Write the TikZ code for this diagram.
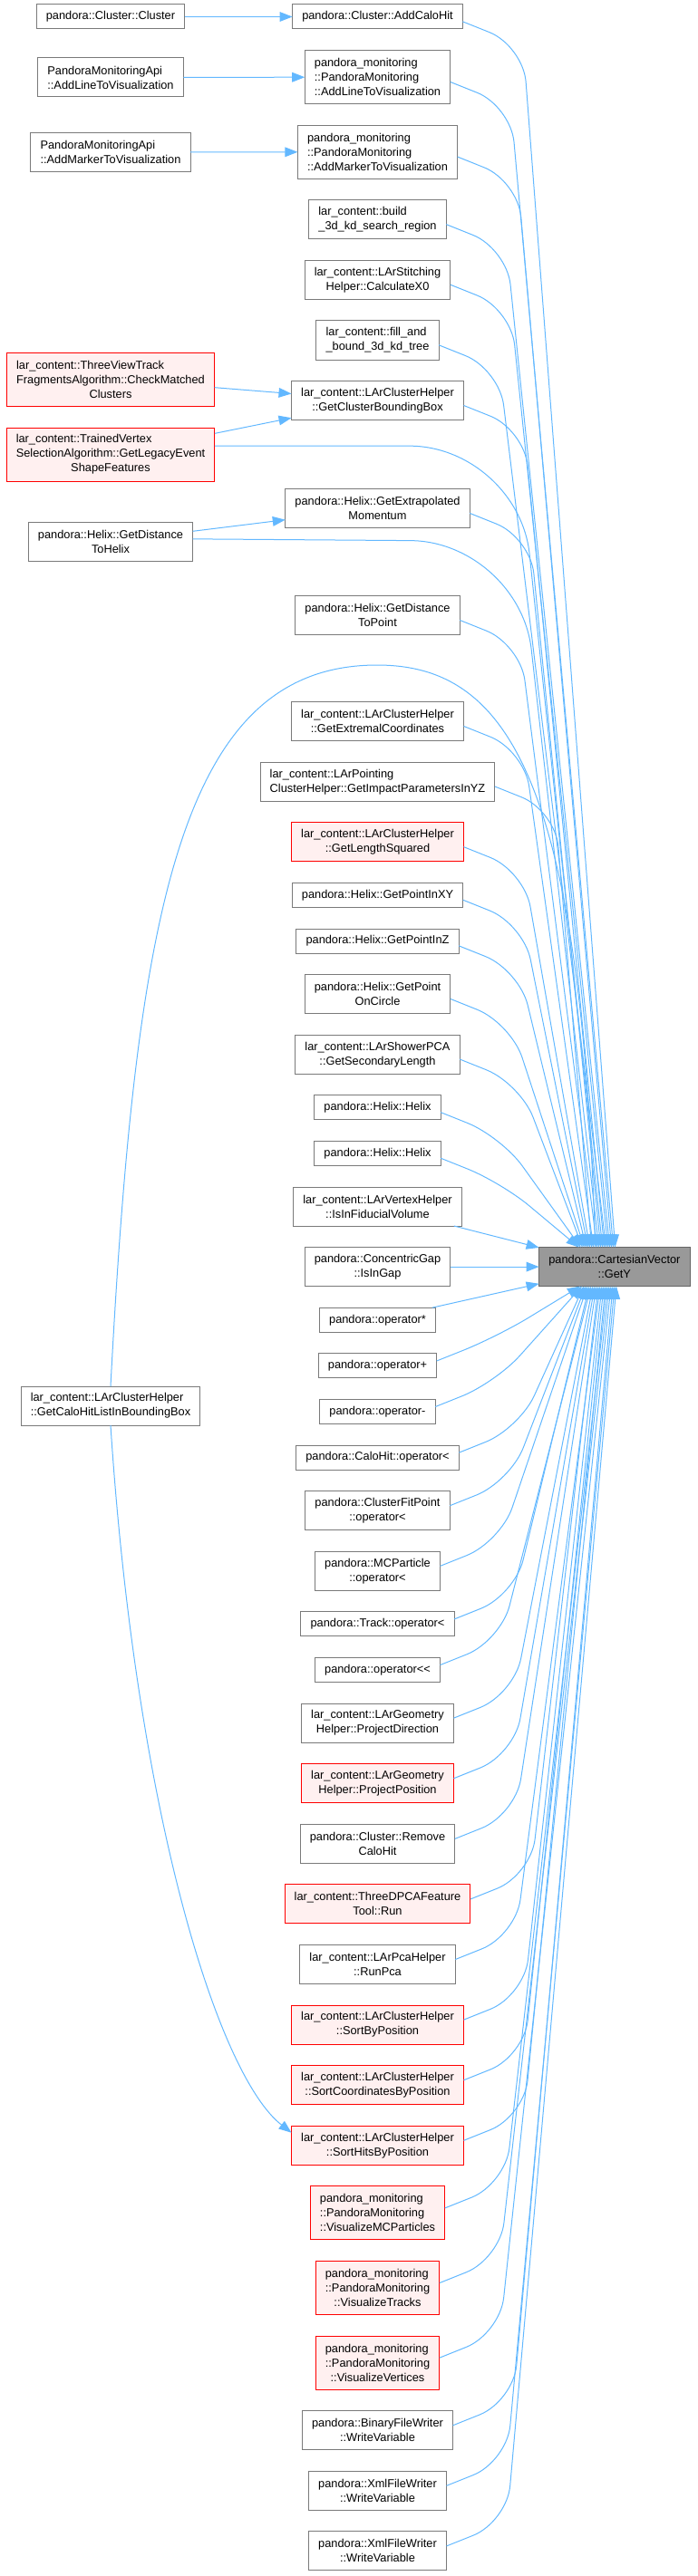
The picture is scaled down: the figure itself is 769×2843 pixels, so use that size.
\documentclass[tikz,border=0pt]{standalone}
\usepackage{fontspec}
\setmainfont{Liberation Sans}[Ligatures=TeXOff]
\usetikzlibrary{positioning, arrows.meta}

\definecolor{callblue}{HTML}{63B8FF}
\definecolor{boxline}{HTML}{7A7A7A}
\definecolor{hotfill}{HTML}{FFF0F0}
\definecolor{focusfill}{HTML}{999999}
\definecolor{focusline}{HTML}{666666}

\begin{document}
\begin{tikzpicture}[
    x=0.75pt, y=-0.75pt,
    node distance=17.7pt,
    fn/.style={draw=boxline, fill=white, line width=0.75pt, outer sep=0pt, inner xsep=8pt, inner ysep=2pt, font=\fontsize{9.6}{12}\selectfont, align=center},
    hot/.style={fn, draw=red, fill=hotfill},
    focus/.style={fn, draw=focusline, fill=focusfill},
    l1/.style={minimum height=20.25pt},
    l2/.style={minimum height=32.25pt},
    l3/.style={minimum height=44.25pt},
    call/.style={draw=callblue, line width=0.75pt, -{Triangle[length=10.5pt, width=8pt]}},
]
\useasboundingbox (0,0) rectangle (769,2843);

% middle column, top to bottom
\node[fn, l1] (addcalohit) at (416.5,18.5) {pandora::Cluster::AddCaloHit};
\node[fn, l3, align=left, below=of addcalohit] (pmaddline) {pandora\_monitoring\\::PandoraMonitoring\\::AddLineToVisualization};
\node[fn, l3, align=left, below=of pmaddline] (pmaddmarker) {pandora\_monitoring\\::PandoraMonitoring\\::AddMarkerToVisualization};
\node[fn, l2, align=left, below=of pmaddmarker] (buildregion) {lar\_content::build\\\_3d\_kd\_search\_region};
\node[fn, l2, below=of buildregion] (calcx0) {lar\_content::LArStitching\\Helper::CalculateX0};
\node[fn, l2, align=left, below=of calcx0] (filltree) {lar\_content::fill\_and\\\_bound\_3d\_kd\_tree};
\node[fn, l2, below=of filltree] (boundingbox) {lar\_content::LArClusterHelper\\::GetClusterBoundingBox};
\node[fn, l2, below=57pt of boundingbox] (extrapmom) {pandora::Helix::GetExtrapolated\\Momentum};
\node[fn, l2, below=56.25pt of extrapmom] (distpoint) {pandora::Helix::GetDistance\\ToPoint};
\node[fn, l2, below=55.5pt of distpoint] (extremal) {lar\_content::LArClusterHelper\\::GetExtremalCoordinates};
\node[fn, l2, align=left, below=of extremal] (impactyz) {lar\_content::LArPointing\\ClusterHelper::GetImpactParametersInYZ};
\node[hot, l2, below=of impactyz] (lengthsq) {lar\_content::LArClusterHelper\\::GetLengthSquared};
\node[fn, l1, below=of lengthsq] (pointxy) {pandora::Helix::GetPointInXY};
\node[fn, l1, below=of pointxy] (pointz) {pandora::Helix::GetPointInZ};
\node[fn, l2, below=of pointz] (pointcircle) {pandora::Helix::GetPoint\\OnCircle};
\node[fn, l2, below=of pointcircle] (secondary) {lar\_content::LArShowerPCA\\::GetSecondaryLength};
\node[fn, l1, below=of secondary] (helixa) {pandora::Helix::Helix};
\node[fn, l1, below=of helixa] (helixb) {pandora::Helix::Helix};
\node[fn, l2, below=of helixb] (fiducial) {lar\_content::LArVertexHelper\\::IsInFiducialVolume};
\node[fn, l2, below=of fiducial] (isingap) {pandora::ConcentricGap\\::IsInGap};
\node[fn, l1, below=of isingap] (optimes) {pandora::operator*};
\node[fn, l1, below=of optimes] (opplus) {pandora::operator+};
\node[fn, l1, below=of opplus] (opminus) {pandora::operator-};
\node[fn, l1, below=of opminus] (calohitless) {pandora::CaloHit::operator<};
\node[fn, l2, below=of calohitless] (fitpointless) {pandora::ClusterFitPoint\\::operator<};
\node[fn, l2, below=of fitpointless] (mcparticleless) {pandora::MCParticle\\::operator<};
\node[fn, l1, below=of mcparticleless] (trackless) {pandora::Track::operator<};
\node[fn, l1, below=of trackless] (opstream) {pandora::operator<<};
\node[fn, l2, below=of opstream] (projdir) {lar\_content::LArGeometry\\Helper::ProjectDirection};
\node[hot, l2, below=of projdir] (projpos) {lar\_content::LArGeometry\\Helper::ProjectPosition};
\node[fn, l2, below=of projpos] (removehit) {pandora::Cluster::Remove\\CaloHit};
\node[hot, l2, below=of removehit] (pcarun) {lar\_content::ThreeDPCAFeature\\Tool::Run};
\node[fn, l2, below=of pcarun] (runpca) {lar\_content::LArPcaHelper\\::RunPca};
\node[hot, l2, below=of runpca] (sortpos) {lar\_content::LArClusterHelper\\::SortByPosition};
\node[hot, l2, below=of sortpos] (sortcoords) {lar\_content::LArClusterHelper\\::SortCoordinatesByPosition};
\node[hot, l2, below=of sortcoords] (sorthits) {lar\_content::LArClusterHelper\\::SortHitsByPosition};
\node[hot, l3, align=left, below=of sorthits] (vismc) {pandora\_monitoring\\::PandoraMonitoring\\::VisualizeMCParticles};
\node[hot, l3, align=left, below=of vismc] (vistracks) {pandora\_monitoring\\::PandoraMonitoring\\\hspace*{\fill}::VisualizeTracks\hspace*{\fill}};
\node[hot, l3, align=left, below=of vistracks] (visvertices) {pandora\_monitoring\\::PandoraMonitoring\\\hspace*{\fill}::VisualizeVertices\hspace*{\fill}};
\node[fn, l2, below=of visvertices] (binwrite) {pandora::BinaryFileWriter\\::WriteVariable};
\node[fn, l2, below=of binwrite] (xmlwritea) {pandora::XmlFileWriter\\::WriteVariable};
\node[fn, l2, below=of xmlwritea] (xmlwriteb) {pandora::XmlFileWriter\\::WriteVariable};

% the function itself
\node[focus, l2, right=73.3pt of isingap] (gety) {pandora::CartesianVector\\::GetY};

% left column
\node[fn, l1] (cluster) at (122,18.5) {pandora::Cluster::Cluster};
\node[fn, l2, align=left] (apiline) at (122,85.5) {PandoraMonitoringApi\\::AddLineToVisualization};
\node[fn, l2, align=left] (apimarker) at (122,168) {PandoraMonitoringApi\\::AddMarkerToVisualization};
\node[hot, l3, align=left] (checkmatched) at (122,418.5) {lar\_content::ThreeViewTrack\\FragmentsAlgorithm::CheckMatched\\\hspace*{\fill}Clusters\hspace*{\fill}};
\node[hot, l3, align=left] (trained) at (122,501.5) {lar\_content::TrainedVertex\\SelectionAlgorithm::GetLegacyEvent\\\hspace*{\fill}ShapeFeatures\hspace*{\fill}};
\node[fn, l2] (distancehelix) at (122,597.5) {pandora::Helix::GetDistance\\ToHelix};
\node[fn, l2, align=left] (calohitlist) at (122,1551.5) {lar\_content::LArClusterHelper\\::GetCaloHitListInBoundingBox};

% left to middle
\draw[call] (cluster) -- (addcalohit);
\draw[call] (apiline) -- (pmaddline);
\draw[call] (apimarker) -- (pmaddmarker);
\draw[call] (checkmatched) -- (boundingbox);
\draw[call] (trained) -- (boundingbox);
\draw[call] (distancehelix) -- (extrapmom);
\draw[call] (calohitlist.south) .. controls (150,2000) and (240,2290) .. ([yshift=10.5pt]sorthits.west);

% into GetY from above
\foreach \n/\e in {addcalohit/63pt, pmaddline/61.5pt, pmaddmarker/60pt, buildregion/58.5pt, calcx0/57pt, filltree/55.5pt, boundingbox/54pt, extrapmom/51pt, distpoint/48pt, extremal/45pt, impactyz/43.5pt, lengthsq/42pt, pointxy/40.5pt, pointz/39pt, pointcircle/37.5pt, secondary/36pt, helixa/34.5pt, helixb/33pt}
  \draw[call, rounded corners=30pt] ([yshift=-4pt]\n.east) -- ++(50pt,-20pt) -- ([xshift=\e]gety.north west);
\draw[call, rounded corners=90pt] ([yshift=7pt]trained.east) -- ++(251pt,0pt) -- ([xshift=52.5pt]gety.north west);
\draw[call, rounded corners=90pt] ([yshift=2pt]distancehelix.east) -- ++(270pt,-2pt) -- ([xshift=49.5pt]gety.north west);
\draw[call] (calohitlist.north) .. controls (150,1000) and (200,734) .. (416,734) .. controls (560,734) and (640,860) .. ([xshift=46.5pt]gety.north west);

% beside GetY
\draw[call] (fiducial) -- (gety);
\draw[call] (isingap) -- (gety);
\draw[call] (optimes) -- (gety);

% into GetY from below
\foreach \n/\e in {opplus/34pt, opminus/35.5pt, calohitless/37pt, fitpointless/38.5pt, mcparticleless/40pt, trackless/41.5pt, opstream/43pt, projdir/44.5pt, projpos/46pt, removehit/47.5pt, pcarun/49pt, runpca/50.5pt, sortpos/52pt, sortcoords/53.5pt, sorthits/55pt, vismc/56.5pt, vistracks/58pt, visvertices/59.5pt, binwrite/61pt, xmlwritea/62.5pt, xmlwriteb/64pt}
  \draw[call, rounded corners=30pt] ([yshift=4pt]\n.east) -- ++(50pt,20pt) -- ([xshift=\e]gety.south west);
\end{tikzpicture}
\end{document}
